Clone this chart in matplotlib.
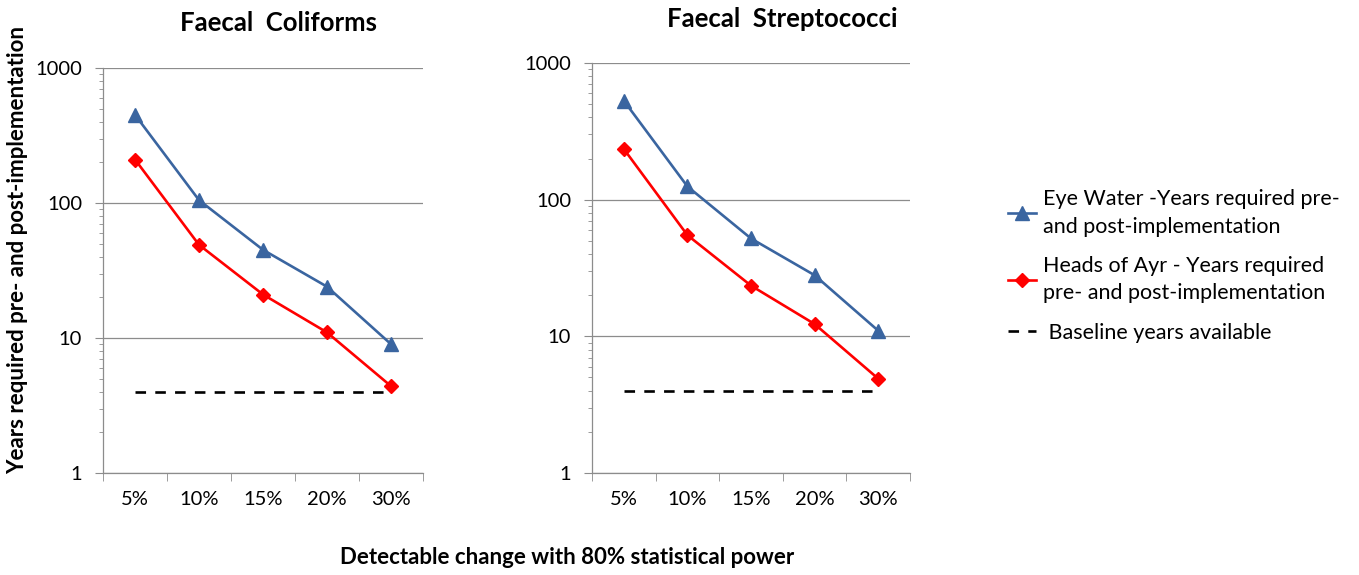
import matplotlib
matplotlib.use("Agg")
import matplotlib.pyplot as plt
from matplotlib.ticker import FixedLocator, NullFormatter, LogLocator
import numpy as np

plt.rcParams['font.family'] = ['Lato', 'DejaVu Sans']

categories = ["5%", "10%", "15%", "20%", "30%"]
fc_eye = [450, 105, 45, 24, 9]
fc_ayr = [210, 49, 21, 11, 4.4]
fc_base = [4, 4, 4, 4, 4]
fs_eye = [530, 125, 52, 28, 11]
fs_ayr = [235, 55, 23.5, 12.3, 4.9]
fs_base = [4, 4, 4, 4, 4]

titles = ["Faecal  Coliforms", "Faecal  Streptococci"]
lab_eye = "Eye Water -Years required pre-\nand post-implementation"
lab_ayr = "Heads of Ayr - Years required\npre- and post-implementation"
lab_base = " Baseline years available"

blue = "#3A65A0"
red = "#FF0000"
grey = "#8C8C8C"

W, H = 1359, 575
fig = plt.figure(figsize=(W/100, H/100), dpi=100)

def ax_rect(x0, x1, y0, y1):
    return [x0/W, 1 - y1/H, (x1-x0)/W, (y1-y0)/H]

axes = [fig.add_axes(ax_rect(103, 423, 68, 473)),
        fig.add_axes(ax_rect(592, 910, 63, 473))]
data = [(fc_eye, fc_ayr, fc_base), (fs_eye, fs_ayr, fs_base)]

x = np.arange(len(categories))
handles = None
for ax, (eye, ayr, base), title in zip(axes, data, titles):
    ax.set_yscale('log')
    ax.set_ylim(1, 1000)
    ax.set_xlim(-0.5, len(categories) - 0.5)
    h1, = ax.plot(x, eye, color=blue, lw=1.9, marker='^', ms=10, mfc=blue, mec=blue, zorder=3)
    h2, = ax.plot(x, ayr, color=red, lw=1.9, marker='D', ms=7, mfc=red, mec=red, zorder=3)
    h3, = ax.plot(x, base, color='black', lw=1.9, ls=(0, (4, 3.5)), zorder=2)
    handles = (h1, h2, h3)
    ax.yaxis.set_major_locator(FixedLocator([1, 10, 100, 1000]))
    ax.yaxis.set_major_formatter(matplotlib.ticker.FuncFormatter(lambda v, p: f"{int(v)}"))
    ax.yaxis.set_minor_locator(LogLocator(base=10, subs=np.arange(2, 10)))
    ax.yaxis.set_minor_formatter(NullFormatter())
    ax.grid(axis='y', which='major', color=grey, lw=0.9)
    ax.set_axisbelow(True)
    ax.set_xticks(x)
    ax.set_xticklabels(categories)
    ax.set_xticks(np.arange(-0.5, len(categories)), minor=True)
    ax.tick_params(axis='x', which='major', length=0, pad=13, labelsize=14.5)
    ax.tick_params(axis='x', which='minor', length=6, color=grey, direction='out')
    ax.tick_params(axis='y', which='major', length=6, color=grey, labelsize=14.5, pad=9)
    ax.tick_params(axis='y', which='minor', length=3, color=grey)
    for s in ['top', 'right']:
        ax.spines[s].set_visible(False)
    for s in ['left', 'bottom']:
        ax.spines[s].set_color(grey)
        ax.spines[s].set_linewidth(0.9)

fig.text(279/W, 1 - 23/H, titles[0], ha='center', va='center', fontsize=18.5, fontweight='bold')
fig.text(782/W, 1 - 19/H, titles[1], ha='center', va='center', fontsize=18.5, fontweight='bold')
fig.text(18/W, 1 - 250/H, "Years required pre- and post-implementation", rotation=90,
         ha='center', va='center', fontsize=16, fontweight='bold')
fig.text(567/W, 1 - 557/H, "Detectable change with 80% statistical power",
         ha='center', va='center', fontsize=16, fontweight='bold')

leg = fig.legend(handles, [lab_eye, lab_ayr, lab_base], loc='upper left',
                 bbox_to_anchor=(989/W, 1 - 170/H), frameon=False, fontsize=15.5,
                 handlelength=1.3, handletextpad=0.3, labelspacing=0.9)
for t in leg.get_texts():
    t.set_linespacing(1.45)

fig.savefig("out.png", dpi=100)
